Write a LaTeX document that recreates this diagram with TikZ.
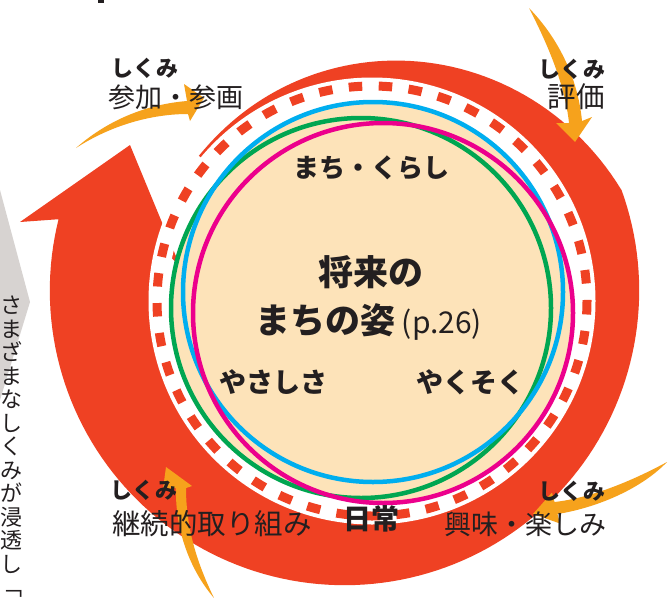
\documentclass[tikz,border=0pt]{standalone}
\usepackage{fontspec}
\newfontfamily\jp{Noto Sans CJK JP}
\definecolor{cred}{HTML}{EF4123}
\definecolor{corange}{HTML}{F6A21C}
\definecolor{cbeige}{HTML}{FDE3B9}
\definecolor{cblue}{HTML}{00AEEF}
\definecolor{cmag}{HTML}{EC008C}
\definecolor{cgreen}{HTML}{00A651}
\definecolor{cgray}{HTML}{D7D3D1}
\definecolor{ctext}{HTML}{231F20}
\tikzset{
  lbl/.style={text=ctext, inner sep=0pt, font=\jp\fontsize{27}{30}\selectfont},
  skm/.style={text=ctext, inner sep=0pt, font=\jp\bfseries\fontsize{22}{24}\selectfont},
  inlbl/.style={text=ctext, inner sep=0pt, font=\jp\bfseries\fontsize{27}{30}\selectfont},
  ring/.style={line width=4.5pt},
}
\begin{document}
\begin{tikzpicture}[x=1pt,y=-1pt]
\useasboundingbox (0,0) rectangle (668,597);
\fill[white] (0,0) rectangle (668,597);
% grey chevron at left
\fill[cgray] (0,190) -- (30,302) -- (0,400) -- cycle;
% small cut-off mark at the top
\fill[ctext] (98,0) rectangle (104,3);
% big red spiral arrow
\fill[cred]
 plot[domain=0:116, samples=60] ({372+(226+47*(\x/116)*sqrt(\x/116))*cos(140-\x)},{301-(226+47*(\x/116)*sqrt(\x/116))*sin(140-\x)})
 -- plot[domain=19.95:-194, samples=120] ({344.5+294.7*cos(\x)},{290.5-294.7*sin(\x)})
 -- (20,222) -- (130,145) -- (180,266) -- (157.3,244.7)
 -- plot[domain=334.7:0, samples=120] ({372+222*cos(140-\x)},{301-222*sin(140-\x)})
 -- cycle;
% white ring and dashed ring
\draw[white, line width=19pt] (372,301) circle[radius=214];
\draw[cred, line width=9pt, dash pattern=on 13.5pt off 16.5pt] (372,301) circle[radius=215];
% beige discs
\fill[cbeige] (373,292) circle[radius=190];
\fill[cbeige] (361,308) circle[radius=190];
\fill[cbeige] (383,313) circle[radius=190];
\draw[cgreen, ring] (361,308) circle[radius=190];
\draw[cblue, ring] (373,292) circle[radius=190];
\draw[cmag, ring] (383,313) circle[radius=190];
% orange arrows
\fill[corange] (76,148) .. controls (110,118) and (150,104) .. (187,101)
 -- (184,84) -- (204,98) -- (190,121) -- (188,114)
 .. controls (150,114) and (110,126) .. (76,148) -- cycle;
\fill[corange] (529,8) .. controls (548,45) and (565,85) .. (569,123)
 -- (556,123) -- (575,142) -- (592,117) -- (582,121)
 .. controls (578,80) and (560,40) .. (529,8) -- cycle;
\fill[corange] (667,462) .. controls (630,482) and (590,498) .. (554.5,502)
 -- (552,492.5) -- (533,514) -- (560,523.5) -- (557.5,514)
 .. controls (595,508) and (640,490) .. (667,462) -- cycle;
\fill[corange] (214,598) .. controls (190,570) and (175,530) .. (176,488)
 -- (163,489) -- (166,467) -- (192,486) -- (186,488)
 .. controls (186,530) and (198,565) .. (214,598) -- cycle;
% labels
\node[skm] (s1) at (145,68) {しくみ};
\node[lbl] (n1) at (176,97) {参加・参画};
\node[skm] (s2) at (572,69) {しくみ};
\node[lbl, font=\jp\fontsize{28.5}{30}\selectfont] (n2) at (576,97) {評価};
\node[skm] (s3) at (144,490) {しくみ};
\node[lbl, font=\jp\fontsize{28.5}{30}\selectfont] (n3) at (212,524) {継続的取り組み};
\node[skm] (s4) at (572,491) {しくみ};
\node[lbl] (n4) at (525,524) {興味・楽しみ};
\node[inlbl, font=\jp\bfseries\fontsize{28}{30}\selectfont] (nichijo) at (371,519) {日常};
\node[text=ctext, inner sep=0pt, font=\jp\bfseries\fontsize{26}{28}\selectfont] (machi) at (371,168) {まち・くらし};
\node[text=ctext, inner sep=0pt, font=\jp\bfseries\fontsize{35}{38}\selectfont] (shorai) at (371,272) {将来の};
\node[text=ctext, inner sep=0pt, font=\jp\bfseries\fontsize{35}{38}\selectfont] (sugata) at (369,322) {まちの姿\hspace{6pt}{\mdseries\fontsize{30}{32}\selectfont (p.26)}};
\node[inlbl] (yasa) at (273,382) {やさしさ};
\node[inlbl] (yaku) at (470,382) {やくそく};
% vertical text
\node[text=ctext, inner sep=0pt, anchor=north, align=center, font=\jp\fontsize{22}{23.5}\selectfont] (vert) at (12,296)
 {さ\\ま\\ざ\\ま\\な\\し\\く\\み\\が\\浸\\透\\し\\﹁};
\end{tikzpicture}
\end{document}
